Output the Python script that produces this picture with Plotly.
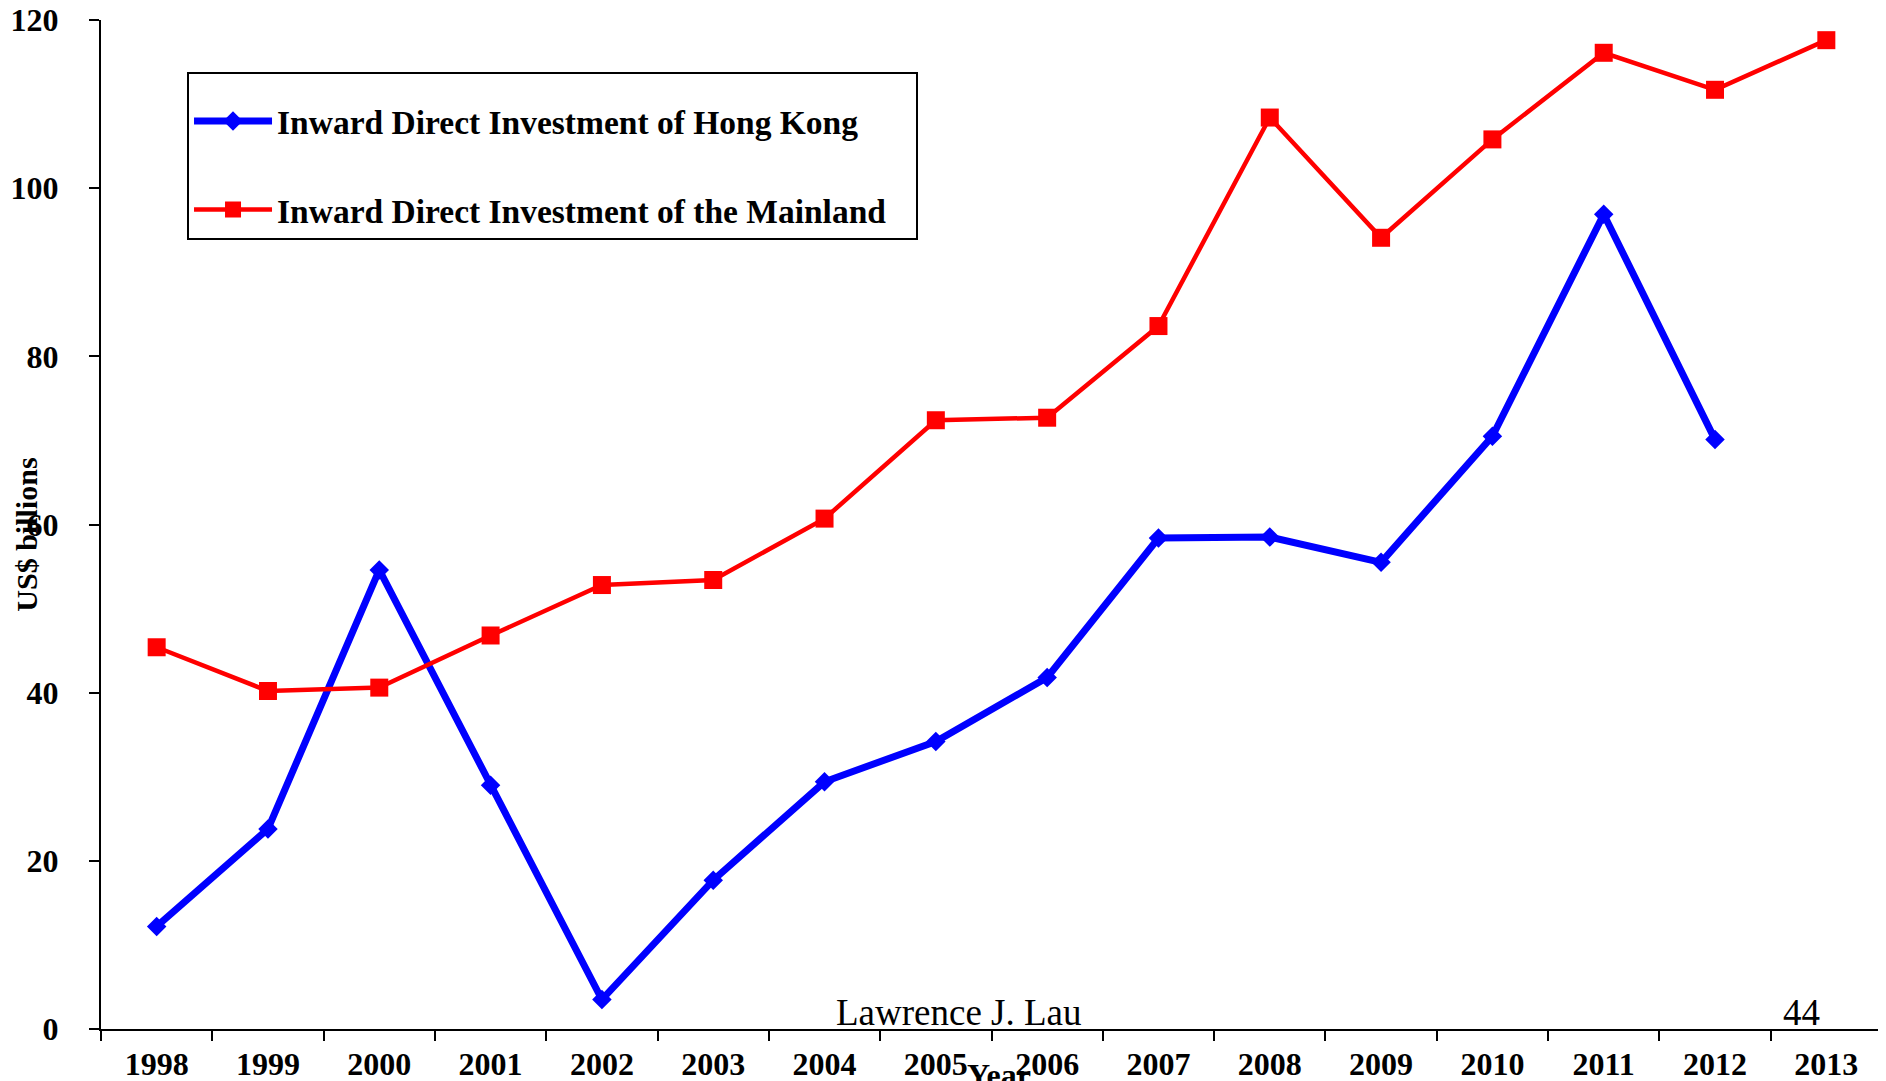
import plotly.graph_objects as go

years = [str(y) for y in range(1998, 2014)]
hk_fdi = [12.2, 23.8, 54.6, 29.0, 3.5, 17.7, 29.4, 34.2, 41.8,
          58.4, 58.5, 55.5, 70.5, 96.9, 70.1]
mainland_fdi = [45.4, 40.2, 40.6, 46.8, 52.8, 53.4, 60.7, 72.4, 72.7,
                83.6, 108.4, 94.1, 105.8, 116.1, 111.7, 117.6]
y_ticks = [0, 20, 40, 60, 80, 100, 120]

SERIF = "Liberation Serif, Times New Roman, serif"
PAD = "&nbsp;" * 3

fig = go.Figure()
fig.add_trace(go.Scatter(
    x=years[:len(hk_fdi)], y=hk_fdi, mode="lines+markers",
    name="<b>Inward Direct Investment of Hong Kong</b>" + PAD,
    line=dict(color="#0000FF", width=7),
    marker=dict(symbol="diamond", size=15, color="#0000FF"),
    legendgroup="hk", cliponaxis=False,
))
fig.add_trace(go.Scatter(
    x=years, y=mainland_fdi, mode="lines+markers",
    name="<b>Inward Direct Investment of the Mainland</b>" + PAD,
    line=dict(color="#FF0000", width=4.5),
    marker=dict(symbol="square", size=18, color="#FF0000"),
    legendgroup="ml", cliponaxis=False,
))

# page body adds an 8px offset, so the figure is 8px smaller than the window
fig.update_layout(
    width=1878, height=1073,
    margin=dict(l=93, r=4, t=12, b=52, autoexpand=False),
    plot_bgcolor="white", paper_bgcolor="white",
    font=dict(family=SERIF, size=32, color="black"),
    showlegend=True,
    legend=dict(
        x=0.0483, y=0.948, xanchor="left", yanchor="top",
        bordercolor="black", borderwidth=2, bgcolor="white",
        font=dict(family=SERIF, size=33.5, color="black"),
        title=dict(text=" ", font=dict(size=14)),
        traceorder="grouped", tracegroupgap=42,
        itemwidth=78,
    ),
    xaxis=dict(
        type="category", categoryorder="array", categoryarray=years,
        range=[-0.5, 15.5], showgrid=False, zeroline=False, automargin=False,
        showline=True, linecolor="black", linewidth=2,
        ticks="outside", tickson="boundaries", ticklen=10, tickwidth=2,
        tickcolor="black", ticklabelstandoff=6,
        tickvals=years, ticktext=[f"<b>{y}</b>" for y in years],
        tickfont=dict(family=SERIF, size=32, color="black"),
    ),
    yaxis=dict(
        range=[0, 120], showgrid=False, zeroline=False, automargin=False,
        showline=True, linecolor="black", linewidth=2,
        ticks="outside", ticklen=10, tickwidth=2, tickcolor="black",
        tickvals=y_ticks, ticktext=[f"<b>{v}</b>" for v in y_ticks],
        tickfont=dict(family=SERIF, size=32, color="black"),
        ticklabelstandoff=24, ticklabeloverflow="allow",
    ),
    annotations=[
        dict(text="<b>US$ billions</b>", textangle=-90, xref="paper", yref="paper",
             x=-0.0415, y=0.49, xanchor="center", yanchor="middle", showarrow=False,
             font=dict(family=SERIF, size=30, color="black")),
        dict(text="<b>Year</b>", xref="paper", yref="paper",
             x=0.504, y=-0.026, xanchor="center", yanchor="top", showarrow=False,
             font=dict(family=SERIF, size=32, color="black")),
        dict(text="Lawrence J. Lau", xref="paper", yref="paper",
             x=0.482, y=0.0159, xanchor="center", yanchor="middle", showarrow=False,
             font=dict(family=SERIF, size=37, color="black")),
        dict(text="44", xref="paper", yref="paper",
             x=0.955, y=0.0159, xanchor="center", yanchor="middle", showarrow=False,
             font=dict(family=SERIF, size=37, color="black")),
    ],
)

fig.write_html("out.html")
